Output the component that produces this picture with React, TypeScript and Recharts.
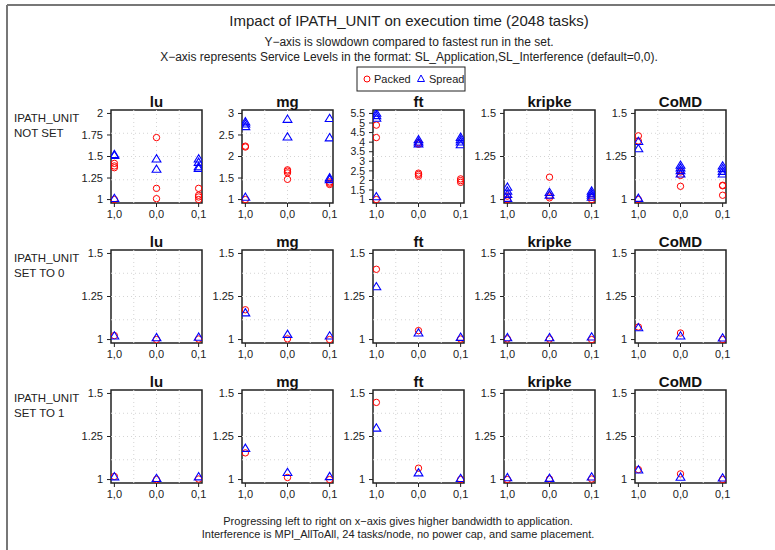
import { ScatterChart, Scatter, XAxis, YAxis, ReferenceLine, ReferenceArea } from "recharts";

const apps = ["lu", "mg", "ft", "kripke", "CoMD"];
const levels = ["1,0", "0,0", "0,1"];
const rowNames = [
  ["IPATH_UNIT", "NOT SET"],
  ["IPATH_UNIT", "SET TO 0"],
  ["IPATH_UNIT", "SET TO 1"],
];

// y limits / ticks, top row differs per app
const topRowYMax = [2, 3, 5.5, 1.5, 1.5];
const topRowTicks = [
  [1, 1.25, 1.5, 1.75, 2],
  [1, 1.5, 2, 2.5, 3],
  [1, 1.5, 2, 2.5, 3, 3.5, 4, 4.5, 5, 5.5],
  [1, 1.25, 1.5],
  [1, 1.25, 1.5],
];
const lowerRowTicks = [1, 1.25, 1.5];

// slowdown values: [app][service level][runs]
const packedNotSet = [
  [[1.42, 1.39, 1.37, 1.0], [1.72, 1.13, 1.01], [1.13, 1.05, 1.03, 1.0]],
  [[2.24, 2.22, 1.0], [1.69, 1.66, 1.62, 1.47], [1.41, 1.38, 1.35]],
  [[4.89, 4.24, 1.0], [3.98, 3.89, 2.38, 2.31, 2.22], [2.08, 1.99, 1.9]],
  [[1.02, 1.0], [1.13, 1.02, 1.01], [1.013, 1.0]],
  [[1.37, 1.34, 1.0], [1.16, 1.14, 1.077], [1.083, 1.08, 1.025]],
];
const spreadNotSet = [
  [[1.52, 1.51, 1.01], [1.47, 1.35], [1.47, 1.43, 1.38, 1.36]],
  [[2.8, 2.75, 2.69, 1.05], [2.86, 2.45], [2.88, 2.43, 1.5, 1.46]],
  [[5.5, 5.38, 5.24, 1.14], [4.12, 4.0, 3.9], [4.24, 4.12, 4.0, 3.86]],
  [[1.071, 1.048, 1.029, 1.006], [1.04, 1.025], [1.048, 1.036, 1.025, 1.013]],
  [[1.336, 1.294, 1.006], [1.198, 1.183, 1.167, 1.148], [1.194, 1.179, 1.163, 1.148]],
];
const packedSet0 = [
  [[1.023], [1.0], [1.003]],
  [[1.173], [1.004], [1.0]],
  [[1.408], [1.052], [1.003]],
  [[1.004], [1.003], [1.0]],
  [[1.073], [1.038], [1.0]],
];
const spreadSet0 = [
  [[1.02], [1.01], [1.013]],
  [[1.154], [1.029], [1.02]],
  [[1.306], [1.037], [1.012]],
  [[1.01], [1.01], [1.014]],
  [[1.068], [1.02], [1.008]],
];
const packedSet1 = [
  [[1.018], [1.0], [1.003]],
  [[1.155], [1.012], [1.0]],
  [[1.448], [1.066], [1.0]],
  [[1.0], [1.003], [1.003]],
  [[1.058], [1.033], [1.0]],
];
const spreadSet1 = [
  [[1.015], [1.005], [1.015]],
  [[1.18], [1.04], [1.016]],
  [[1.298], [1.038], [1.005]],
  [[1.01], [1.006], [1.014]],
  [[1.055], [1.013], [1.008]],
];

const packedRows = [packedNotSet, packedSet0, packedSet1];
const spreadRows = [spreadNotSet, spreadSet0, spreadSet1];

const FONT = "'Liberation Sans', Arial, sans-serif";
const RED = "#ff0000";
const BLUE = "#0000ff";
const INK = "#222";

const BOX_LEFT = 111;
const COL_STEP = 131;
const BOX_W = 91;
const BOX_TOP = 110;
const ROW_STEP = 140;
const BOX_H = 93;
const YW = 45;
const TOP_PAD = 4;
const RIGHT_PAD = 6;
const XH = 26;

const X_DOMAIN: [number, number] = [0.92, 3.08];

function toPoints(values: number[][]) {
  const pts: { x: number; y: number }[] = [];
  values.forEach((runs, i) => runs.forEach((v) => pts.push({ x: i + 1, y: v })));
  return pts;
}

const CircleMark = (p: any) => (
  <circle cx={p.cx} cy={p.cy} r={3.2} fill="none" stroke={RED} strokeWidth={1} />
);

const TriMark = (p: any) => {
  const s = 4.4;
  return (
    <polygon
      points={`${p.cx},${p.cy - s} ${p.cx - s},${p.cy + s * 0.65} ${p.cx + s},${p.cy + s * 0.65}`}
      fill="none"
      stroke={BLUE}
      strokeWidth={1.1}
    />
  );
};

function Panel({ row, col }: { row: number; col: number }) {
  const yMax = row === 0 ? topRowYMax[col] : 1.5;
  const ticks = row === 0 ? topRowTicks[col] : lowerRowTicks;
  const ext = (yMax - 1) * 0.04;
  const yDomain: [number, number] = [1 - ext, yMax + ext];
  const gx = [1, 2, 3].map((k) => X_DOMAIN[0] + ((X_DOMAIN[1] - X_DOMAIN[0]) * k) / 4);
  const gy = [1, 2, 3].map((k) => yDomain[0] + ((yDomain[1] - yDomain[0]) * k) / 4);
  const left = BOX_LEFT + col * COL_STEP - YW;
  const top = BOX_TOP + row * ROW_STEP - TOP_PAD;
  const tickFont = ticks.length > 6 ? 10.5 : 11;

  return (
    <div style={{ position: "absolute", left, top }}>
      <ScatterChart
        width={YW + BOX_W + RIGHT_PAD}
        height={TOP_PAD + BOX_H + XH}
        margin={{ top: TOP_PAD, right: RIGHT_PAD, left: 0, bottom: 0 }}
      >
        <XAxis
          type="number"
          dataKey="x"
          domain={X_DOMAIN}
          ticks={[1, 2, 3]}
          interval={0}
          allowDataOverflow
          height={XH}
          axisLine={false}
          tickLine={{ stroke: INK }}
          tickSize={4}
          tickMargin={3}
          tickFormatter={(v: number) => levels[v - 1]}
          tick={{ fontSize: 11, fill: INK, fontFamily: FONT }}
        />
        <YAxis
          type="number"
          dataKey="y"
          domain={yDomain}
          ticks={ticks}
          interval={0}
          allowDataOverflow
          width={YW}
          axisLine={false}
          tickLine={{ stroke: INK }}
          tickSize={4}
          tickMargin={4}
          tick={{ fontSize: tickFont, fill: INK, fontFamily: FONT }}
        />
        {gx.map((v) => (
          <ReferenceLine key={"x" + v} x={v} stroke="#d4d4d4" strokeDasharray="1 3" />
        ))}
        {gy.map((v) => (
          <ReferenceLine key={"y" + v} y={v} stroke="#d4d4d4" strokeDasharray="1 3" />
        ))}
        <ReferenceArea
          x1={X_DOMAIN[0]}
          x2={X_DOMAIN[1]}
          y1={yDomain[0]}
          y2={yDomain[1]}
          fill="none"
          fillOpacity={0}
          stroke={INK}
          strokeWidth={1.5}
          ifOverflow="visible"
        />
        <Scatter
          data={toPoints(packedRows[row][col])}
          shape={CircleMark}
          isAnimationActive={false}
        />
        <Scatter
          data={toPoints(spreadRows[row][col])}
          shape={TriMark}
          isAnimationActive={false}
        />
      </ScatterChart>
    </div>
  );
}

export default function App() {
  const cx = 409;
  return (
    <div
      style={{
        position: "absolute",
        left: 0,
        top: 0,
        width: 775,
        height: 550,
        background: "#fff",
        fontFamily: FONT,
        overflow: "hidden",
      }}
    >
      {rowNames.map((_, r) =>
        apps.map((_, c) => <Panel key={r + "-" + c} row={r} col={c} />)
      )}
      <svg
        width={775}
        height={550}
        style={{ position: "absolute", left: 0, top: 0, pointerEvents: "none" }}
        fontFamily={FONT}
      >
        <line x1={7} y1={5} x2={775} y2={5} stroke="#777" strokeWidth={2} />
        <line x1={7} y1={5} x2={7} y2={550} stroke="#777" strokeWidth={2} />

        <text x={cx} y={26} fontSize={15} textAnchor="middle" fill={INK}>
          Impact of IPATH_UNIT on execution time (2048 tasks)
        </text>
        <text x={cx} y={46} fontSize={12} textAnchor="middle" fill={INK}>
          Y−axis is slowdown compared to fastest run in the set.
        </text>
        <text x={cx} y={61} fontSize={12} textAnchor="middle" fill={INK}>
          X−axis represents Service Levels in the format: SL_Application,SL_Interference (default=0,0).
        </text>

        <rect x={357} y={67} width={108} height={24} fill="none" stroke={INK} strokeWidth={1} />
        <circle cx={367} cy={79} r={3} fill="none" stroke={RED} />
        <text x={374} y={83} fontSize={11} fill={INK}>Packed</text>
        <polygon points="421,75 417.5,81.5 424.5,81.5" fill="none" stroke={BLUE} />
        <text x={429} y={83} fontSize={11} fill={INK}>Spread</text>

        {rowNames.map((lines, r) => (
          <g key={"row" + r}>
            <text x={14} y={122 + r * ROW_STEP} fontSize={11.5} fill={INK}>{lines[0]}</text>
            <text x={14} y={137 + r * ROW_STEP} fontSize={11.5} fill={INK}>{lines[1]}</text>
          </g>
        ))}

        {rowNames.map((_, r) =>
          apps.map((a, c) => (
            <text
              key={"t" + r + c}
              x={BOX_LEFT + c * COL_STEP + BOX_W / 2}
              y={BOX_TOP + r * ROW_STEP - 3}
              fontSize={15}
              fontWeight="bold"
              textAnchor="middle"
              fill="#111"
            >
              {a}
            </text>
          ))
        )}

        <text x={398} y={525} fontSize={11} textAnchor="middle" fill={INK}>
          Progressing left to right on x−axis gives higher bandwidth to application.
        </text>
        <text x={398} y={538} fontSize={11} textAnchor="middle" fill={INK}>
          Interference is MPI_AllToAll, 24 tasks/node, no power cap, and same placement.
        </text>
      </svg>
    </div>
  );
}
